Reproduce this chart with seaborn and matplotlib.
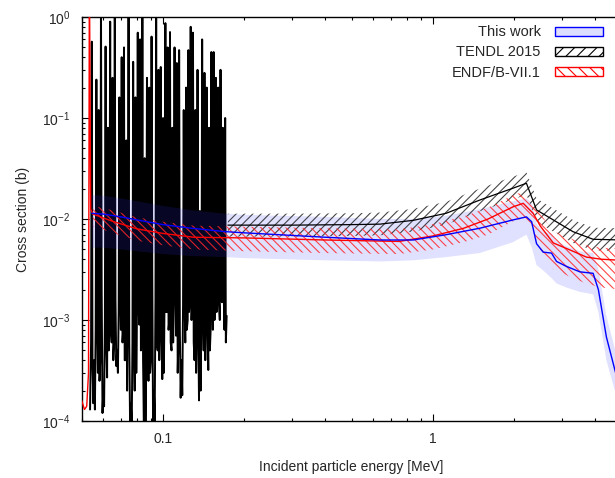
import numpy as np
import pandas as pd
import matplotlib
matplotlib.use("Agg")
import matplotlib.pyplot as plt
from matplotlib.patches import Patch
import seaborn as sns

# ---------------- data ----------------
# TENDL 2015 resolved-resonance region (MeV, barn)
# per resonance group: left shoulder, peak, right shoulder, valley, second peak, valley
tendl_res_e = [0.05370,
    0.05417, 0.05450, 0.05483, 0.05521, 0.05559, 0.05597,
    0.05634, 0.05668, 0.05702, 0.05742, 0.05781, 0.05821,
    0.05860, 0.05895, 0.05930, 0.05972, 0.06013, 0.06054,
    0.06094, 0.06131, 0.06168, 0.06211, 0.06254, 0.06297,
    0.06338, 0.06376, 0.06414, 0.06459, 0.06504, 0.06548,
    0.06591, 0.06631, 0.06671, 0.06717, 0.06764, 0.06810,
    0.06855, 0.06896, 0.06937, 0.06986, 0.07034, 0.07082,
    0.07129, 0.07172, 0.07215, 0.07265, 0.07315, 0.07366,
    0.07414, 0.07459, 0.07504, 0.07556, 0.07608, 0.07660,
    0.07710, 0.07757, 0.07804, 0.07858, 0.07912, 0.07966,
    0.08019, 0.08067, 0.08115, 0.08172, 0.08228, 0.08285,
    0.08340, 0.08390, 0.08440, 0.08499, 0.08558, 0.08617,
    0.08674, 0.08726, 0.08778, 0.08839, 0.08901, 0.08962,
    0.09021, 0.09075, 0.09129, 0.09193, 0.09257, 0.09320,
    0.09381, 0.09438, 0.09495, 0.09561, 0.09627, 0.09693,
    0.09756, 0.09815, 0.09874, 0.09943, 0.1001, 0.1008,
    0.1015, 0.1021, 0.1027, 0.1034, 0.1041, 0.1049,
    0.1056, 0.1062, 0.1068, 0.1076, 0.1083, 0.1091,
    0.1097, 0.1104, 0.1111, 0.1118, 0.1126, 0.1134,
    0.1141, 0.1148, 0.1155, 0.1163, 0.1171, 0.1179,
    0.1187, 0.1194, 0.1201, 0.1210, 0.1218, 0.1226,
    0.1235, 0.1242, 0.1249, 0.1258, 0.1267, 0.1276,
    0.1284, 0.1292, 0.1300, 0.1309, 0.1318, 0.1327,
    0.1335, 0.1343, 0.1351, 0.1360, 0.1370, 0.1379,
    0.1389, 0.1397, 0.1405, 0.1415, 0.1425, 0.1435,
    0.1444, 0.1453, 0.1462, 0.1472, 0.1482, 0.1492,
    0.1502, 0.1511, 0.1520, 0.1531, 0.1541, 0.1552,
    0.1562, 0.1571, 0.1580, 0.1591, 0.1602, 0.1613,
    0.1624, 0.1634, 0.1644, 0.1655, 0.1667, 0.1678,
    0.1690, 0.1700, 0.1710, 0.1722]
tendl_res_xs = [1.3e-4,
    6.0e-4, 0.57, 4.0e-4, 1.5e-4, 4.0e-4, 1.3e-4,
    8.0e-4, 0.24, 1.2e-3, 3.0e-4, 0.120, 2.5e-4,
    4.0e-4, 1.50, 2.0e-3, 1.2e-4, 2.0e-4, 1.4e-4,
    1.0e-3, 0.51, 6.0e-4, 2.7e-4, 0.080, 5.0e-4,
    3.0e-3, 0.90, 8.0e-4, 6.0e-4, 0.250, 4.0e-4,
    6.0e-4, 1.20, 1.6e-3, 3.5e-4, 5.0e-4, 3.0e-4,
    1.2e-3, 0.16, 2.4e-3, 8.0e-4, 0.400, 6.0e-4,
    8.0e-4, 0.50, 4.0e-4, 4.0e-4, 0.060, 2.0e-4,
    4.0e-3, 1.50, 6.0e-4, 9.0e-5, 1.5e-4, 8.0e-5,
    6.0e-4, 0.36, 1.0e-3, 2.0e-4, 0.160, 3.0e-4,
    2.0e-3, 0.70, 1.4e-3, 9.0e-4, 0.600, 5.0e-4,
    6.0e-4, 1.00, 4.0e-4, 1.0e-4, 0.040, 9.0e-5,
    1.2e-3, 0.25, 8.0e-4, 2.5e-4, 0.200, 3.0e-4,
    4.0e-4, 0.64, 3.0e-3, 9.0e-5, 2.0e-4, 1.0e-4,
    1.6e-3, 1.30, 6.0e-4, 5.0e-4, 0.300, 4.0e-4,
    8.0e-4, 0.32, 1.8e-3, 2.6e-4, 0.100, 3.0e-4,
    2.4e-3, 0.87, 1.2e-3, 1.2e-3, 0.500, 8.0e-4,
    1.0e-3, 0.71, 6.0e-4, 5.0e-4, 0.080, 6.0e-4,
    4.0e-3, 0.50, 1.6e-3, 7.0e-4, 0.350, 3.0e-4,
    6.0e-4, 0.47, 8.0e-4, 1.7e-4, 4.0e-4, 1.8e-4,
    1.4e-3, 0.12, 2.0e-3, 6.0e-4, 0.200, 8.0e-4,
    1.0e-3, 0.47, 1.2e-3, 1.5e-3, 0.800, 1.0e-3,
    2.0e-3, 0.70, 6.0e-4, 4.0e-4, 0.120, 3.0e-4,
    8.0e-4, 0.30, 1.0e-3, 1.6e-4, 0.012, 2.0e-4,
    1.2e-3, 0.60, 3.0e-3, 5.0e-4, 0.280, 4.0e-4,
    1.6e-3, 0.20, 1.0e-3, 3.2e-4, 0.080, 5.0e-4,
    8.0e-4, 0.45, 2.0e-3, 8.0e-4, 0.450, 1.0e-3,
    1.8e-3, 0.25, 1.2e-3, 2.0e-3, 0.200, 1.5e-3,
    1.0e-3, 0.30, 1.6e-3, 1.5e-3, 0.080, 2.0e-3,
    8.0e-4, 0.10, 6.0e-4, 1.1e-3]

# TENDL 2015 smooth part with its uncertainty band
tendl_e     = [0.174, 0.30, 0.50, 0.637, 0.845, 1.12, 1.49, 1.98, 2.22, 2.42, 2.79, 3.30, 3.92, 5.00]
tendl_xs    = [0.0087, 0.0087, 0.0088, 0.0089, 0.0097, 0.0114, 0.0154, 0.0202, 0.0226, 0.0123, 0.0098, 0.0075, 0.0063, 0.0062]
tendl_upper = [0.0113, 0.0113, 0.0114, 0.0116, 0.0126, 0.0148, 0.0200, 0.0263, 0.0290, 0.0160, 0.0127, 0.0098, 0.0082, 0.0081]
tendl_lower = [0.0067, 0.0067, 0.0068, 0.0069, 0.0075, 0.0088, 0.0119, 0.0156, 0.0174, 0.0095, 0.0075, 0.0058, 0.0049, 0.0048]

# ENDF/B-VII.1
endf_e  = [0.0500, 0.0512, 0.0522, 0.0530, 0.0534, 0.0540, 0.0550, 0.0650, 0.0800, 0.100, 0.130, 0.200,
           0.400, 0.750, 1.00, 1.30, 1.60, 1.98, 2.16, 2.35, 2.50, 2.79, 3.30, 3.70, 4.20, 5.00]
endf_xs = [1.6e-4, 1.3e-4, 1.4e-4, 3.0e-4, 3.0, 0.0125, 0.0112, 0.0095, 0.0080, 0.0072, 0.0066, 0.0065,
           0.0062, 0.0060, 0.0068, 0.0081, 0.0100, 0.0132, 0.0143, 0.0114, 0.0085, 0.0058, 0.0048, 0.0042, 0.0040, 0.0039]
endf_band_e = [0.055, 0.065, 0.080, 0.100, 0.130, 0.200, 0.400, 0.750, 1.00, 1.30, 1.60, 1.98, 2.16, 2.35,
               2.50, 2.79, 3.30, 3.70, 4.20, 5.00]
endf_upper  = [0.0135, 0.0122, 0.0104, 0.0094, 0.0086, 0.0084, 0.0081, 0.0079, 0.0089, 0.0106, 0.0130, 0.0172,
               0.0186, 0.0150, 0.0112, 0.0076, 0.0063, 0.0055, 0.0052, 0.0051]
endf_lower  = [0.0085, 0.0073, 0.0061, 0.0055, 0.0050, 0.0048, 0.0046, 0.0045, 0.0050, 0.0059, 0.0070, 0.0095,
               0.0102, 0.0075, 0.0050, 0.0032, 0.0026, 0.0023, 0.0021, 0.0020]

# This work
tw_e     = [0.0545, 0.060, 0.070, 0.080, 0.100, 0.128, 0.170, 0.200, 0.400, 0.637, 0.845, 1.12, 1.49, 1.98,
            2.22, 2.32, 2.42, 2.56, 2.75, 2.87, 3.12, 3.50, 3.92, 4.10, 4.39, 4.72, 5.00]
tw_xs    = [0.0114, 0.0112, 0.0105, 0.0098, 0.0088, 0.0081, 0.0075, 0.0073, 0.0066, 0.0062, 0.0062, 0.0070, 0.0081, 0.0098,
            0.0105, 0.0094, 0.0057, 0.0047, 0.0046, 0.0038, 0.0034, 0.0030, 0.0029, 0.0020, 0.00068, 0.00032, 0.00018]
tw_upper = [0.0173, 0.0170, 0.0160, 0.0150, 0.0135, 0.0122, 0.0113, 0.0110, 0.0105, 0.0100, 0.0100, 0.0108, 0.0125, 0.0150,
            0.0160, 0.0145, 0.0090, 0.0075, 0.0072, 0.0060, 0.0054, 0.0048, 0.0046, 0.0032, 0.0011, 0.00052, 0.0003]
tw_lower = [0.0052, 0.0052, 0.0050, 0.0048, 0.0045, 0.0043, 0.0042, 0.0041, 0.0039, 0.0038, 0.0039, 0.0042, 0.0046, 0.0059,
            0.0070, 0.0053, 0.0035, 0.0031, 0.0026, 0.0023, 0.0021, 0.0019, 0.0018, 0.0012, 0.00040, 0.00020, 0.00012]

labels = ["This work", "TENDL 2015", "ENDF/B-VII.1"]

# ---------------- style ----------------
sns.set_style("ticks")
plt.rcParams["font.family"] = ["Liberation Sans", "DejaVu Sans"]
plt.rcParams["mathtext.fontset"] = "custom"
plt.rcParams["mathtext.rm"] = "Liberation Sans"
plt.rcParams["mathtext.it"] = "Liberation Sans:italic"
plt.rcParams["hatch.linewidth"] = 0.8
text_col = "#262626"

fig = plt.figure(figsize=(6.15, 4.78), dpi=100)
ax = fig.add_axes([0.1328, 0.1192, 0.878, 0.8452])

# resonance region (black)
df_res = pd.DataFrame({"E": tendl_res_e, "xs": tendl_res_xs})
sns.lineplot(data=df_res, x="E", y="xs", ax=ax, color="black", lw=1.4,
             estimator=None, sort=False, zorder=2)

# bands
ax.fill_between(tw_e, tw_lower, tw_upper, facecolor=(0.2, 0.2, 1.0, 0.15),
                edgecolor="none", lw=0, zorder=3)
ax.fill_between(tendl_e, tendl_lower, tendl_upper, facecolor="none",
                edgecolor=(0.15, 0.15, 0.15, 0.85), hatch="////", lw=0, zorder=4)
ax.fill_between(endf_band_e, endf_lower, endf_upper, facecolor="none",
                edgecolor=(1.0, 0.15, 0.15, 0.85), hatch="\\\\\\\\", lw=0, zorder=4)

# central lines
df_t = pd.DataFrame({"E": tendl_e, "xs": tendl_xs})
sns.lineplot(data=df_t, x="E", y="xs", ax=ax, color="black", lw=0.9,
             estimator=None, sort=False, zorder=5)
df_e = pd.DataFrame({"E": endf_e, "xs": endf_xs})
sns.lineplot(data=df_e, x="E", y="xs", ax=ax, color="red", lw=1.0,
             estimator=None, sort=False, zorder=6)
df_w = pd.DataFrame({"E": tw_e, "xs": tw_xs})
sns.lineplot(data=df_w, x="E", y="xs", ax=ax, color="blue", lw=1.0,
             estimator=None, sort=False, zorder=7)

ax.set_xscale("log")
ax.set_yscale("log")
ax.set_xlim(0.05, 5.0)
ax.set_ylim(1e-4, 1.0)

ax.xaxis.set_major_formatter(matplotlib.ticker.FuncFormatter(lambda v, p: f"{v:g}"))
ax.xaxis.set_minor_formatter(matplotlib.ticker.NullFormatter())
ax.tick_params(which="both", direction="in", top=True, right=False,
               labelsize=10, colors="black", labelcolor=text_col, width=0.8)
ax.tick_params(which="major", length=5, pad=8)
ax.tick_params(which="minor", length=2.5)
for s in ax.spines.values():
    s.set_linewidth(1.0)
    s.set_color("black")

ax.set_xlabel("Incident particle energy [MeV]", fontsize=10, color=text_col, labelpad=10)
ax.set_ylabel("Cross section (b)", fontsize=10, color=text_col, labelpad=9)

handles = [Patch(facecolor=(0.87, 0.87, 1.0), edgecolor="blue", lw=1.0),
           Patch(facecolor="white", edgecolor="black", hatch="///", lw=1.0),
           Patch(facecolor="white", edgecolor="red", hatch="\\\\\\", lw=1.0)]
leg = fig.legend(handles, labels, loc="upper right", bbox_to_anchor=(0.981, 0.947),
                 frameon=False, markerfirst=False, fontsize=10.5, handlelength=3.3,
                 handleheight=0.55, labelspacing=0.42, handletextpad=1.0,
                 borderpad=0, borderaxespad=0)
for t in leg.get_texts():
    t.set_color(text_col)

fig.savefig("out.png", dpi=100)
